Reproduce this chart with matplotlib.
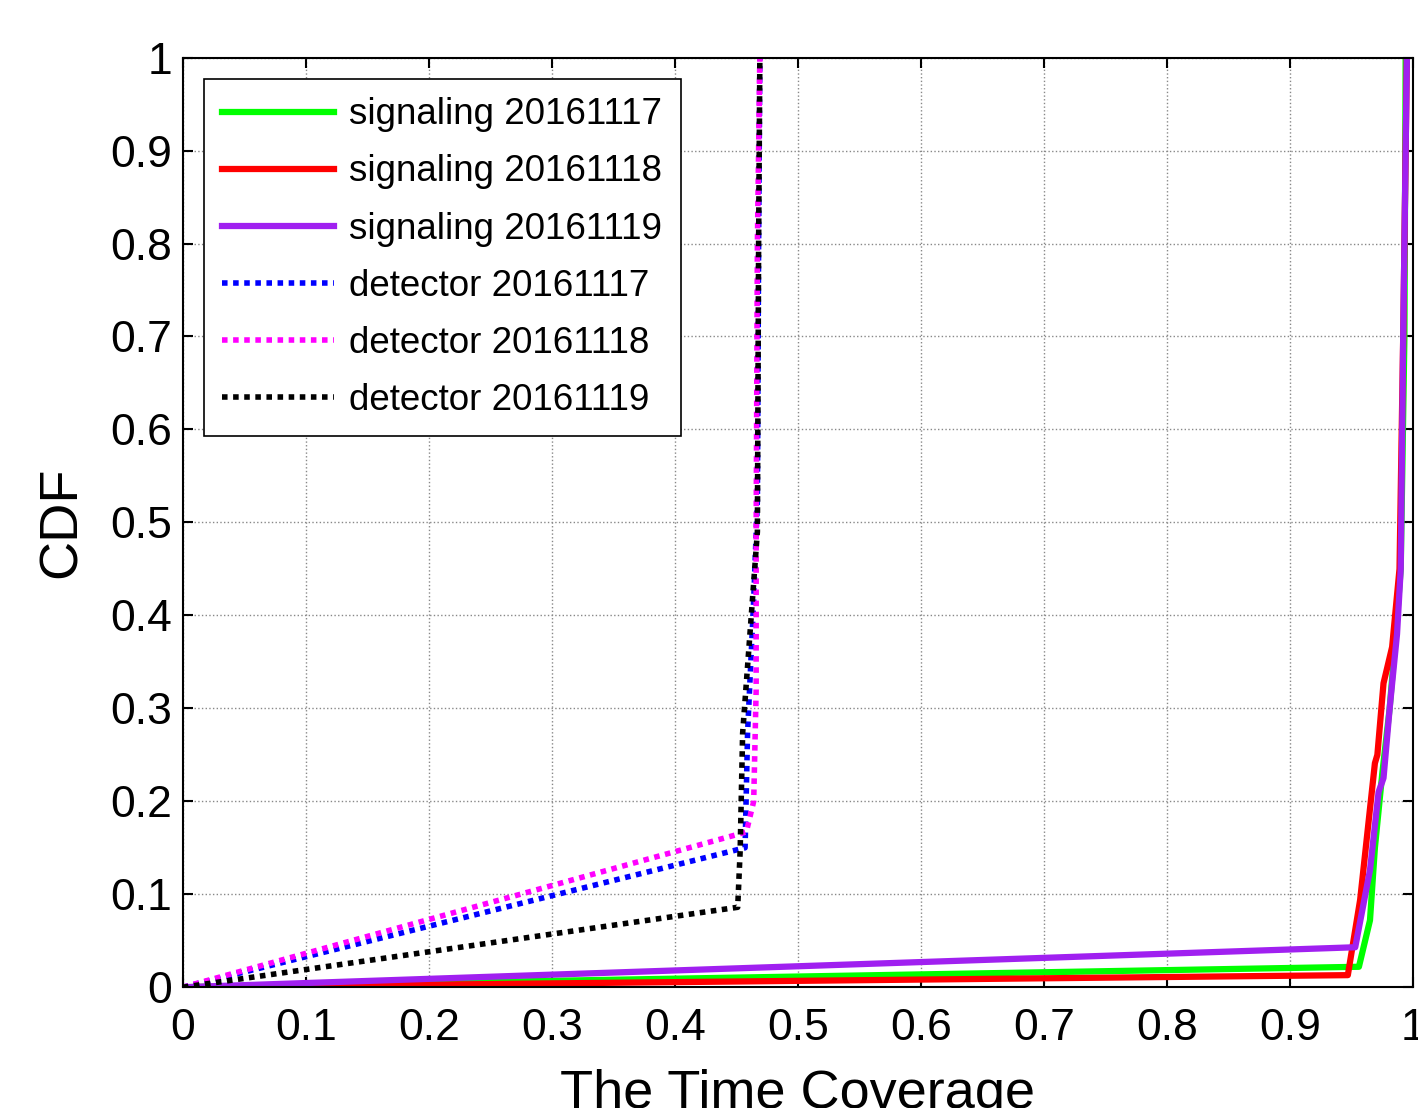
import matplotlib
matplotlib.use("Agg")
import matplotlib.pyplot as plt
from matplotlib.ticker import FuncFormatter

plt.rcParams['font.family'] = ['Liberation Sans', 'DejaVu Sans']

# ---- data ----
sig17_x = [0.0, 0.956, 0.965, 0.969, 0.975, 0.981, 0.986, 0.990, 0.993, 0.994]
sig17_y = [0.0, 0.022, 0.072, 0.150, 0.230, 0.300, 0.380, 0.450, 0.700, 1.000]
sig18_x = [0.0, 0.947, 0.957, 0.969, 0.971, 0.976, 0.983, 0.989, 0.992, 0.995]
sig18_y = [0.0, 0.013, 0.094, 0.241, 0.250, 0.327, 0.366, 0.450, 0.700, 1.000]
sig19_x = [0.0, 0.953, 0.965, 0.972, 0.976, 0.981, 0.987, 0.990, 0.992, 0.995]
sig19_y = [0.0, 0.043, 0.126, 0.210, 0.225, 0.300, 0.380, 0.450, 0.700, 1.000]

det17_x = [0.0, 0.457, 0.459, 0.464, 0.467, 0.468, 0.469]
det17_y = [0.0, 0.150, 0.273, 0.417, 0.524, 0.800, 1.000]
det18_x = [0.0, 0.458, 0.464, 0.466, 0.466, 0.467, 0.469]
det18_y = [0.0, 0.167, 0.200, 0.320, 0.490, 0.800, 1.000]
det19_x = [0.0, 0.451, 0.453, 0.455, 0.461, 0.467, 0.468, 0.469]
det19_y = [0.0, 0.086, 0.147, 0.273, 0.381, 0.490, 0.800, 1.000]

labels = ["signaling 20161117", "signaling 20161118", "signaling 20161119",
          "detector 20161117", "detector 20161118", "detector 20161119"]
ticks = [0, 0.1, 0.2, 0.3, 0.4, 0.5, 0.6, 0.7, 0.8, 0.9, 1]

fig = plt.figure(figsize=(14.18, 11.08), dpi=100)
ax = fig.add_axes([0.129, 0.109, 0.8675, 0.839])

solid_lw = 4.5
dot_lw = 4.0
ax.plot(sig17_x, sig17_y, color='#00ff00', lw=solid_lw, label=labels[0])
ax.plot(sig18_x, sig18_y, color='#ff0000', lw=solid_lw, label=labels[1])
ax.plot(sig19_x, sig19_y, color='#a020f0', lw=solid_lw, label=labels[2])
ax.plot(det17_x, det17_y, color='#0000ff', lw=dot_lw, ls=(0, (1, 1)), label=labels[3], dash_capstyle='butt')
ax.plot(det18_x, det18_y, color='#ff00ff', lw=dot_lw, ls=(0, (1, 1)), label=labels[4], dash_capstyle='butt')
ax.plot(det19_x, det19_y, color='#000000', lw=dot_lw, ls=(0, (1, 1)), label=labels[5], dash_capstyle='butt')

ax.set_xlim(0, 1)
ax.set_ylim(0, 1)
ax.set_xticks(ticks)
ax.set_yticks(ticks)
fmt = FuncFormatter(lambda v, p: ('%g' % v))
ax.xaxis.set_major_formatter(fmt)
ax.yaxis.set_major_formatter(fmt)
ax.tick_params(direction='in', length=7, width=1.5, labelsize=32,
               top=True, right=True)
ax.tick_params(axis='x', pad=15)
ax.tick_params(axis='y', pad=8)
ax.grid(True, color='#888888', ls=':', lw=1.0)
for s in ax.spines.values():
    s.set_linewidth(1.5)
    s.set_color('black')

ax.set_xlabel("The Time Coverage", fontsize=39, labelpad=14)
ax.set_ylabel("CDF", fontsize=39, labelpad=17)

leg = ax.legend(loc='upper left', bbox_to_anchor=(0.017, 0.977), fontsize=26.5,
                frameon=True, fancybox=False, framealpha=1, edgecolor='black',
                handlelength=3.05, handletextpad=0.4, labelspacing=0.6,
                borderpad=0.5, borderaxespad=0)
leg.get_frame().set_linewidth(1.2)

fig.savefig("out.png", dpi=100)
